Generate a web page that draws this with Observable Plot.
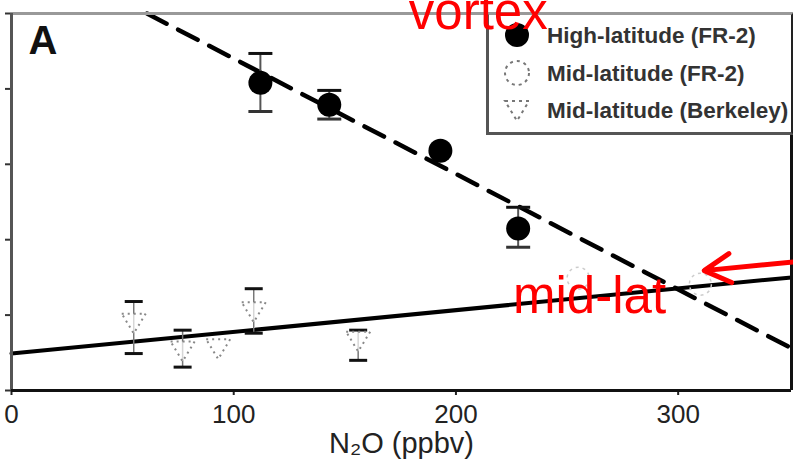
<!DOCTYPE html>
<html>
<head>
<meta charset="utf-8">
<script src="https://cdn.jsdelivr.net/npm/d3@7"></script>
<script src="https://cdn.jsdelivr.net/npm/@observablehq/plot@0.6"></script>
<style>
  body { margin: 0; background: #fff; }
  #wrap { position: relative; width: 793px; height: 461px; overflow: hidden; background: #fff; }
  #legend {
    position: absolute; left: 486px; top: 12px; width: 302px; height: 117px;
    background: #fff; border: 3px solid #555; border-top-color: #999; border-right-color: #222;
  }
  #legend svg { display: block; }
</style>
</head>
<body>
<div id="wrap"></div>
<script>
// Axis extents and ticks
const xDomain = [0, 351];
const yDomain = [0, 5];
const xTicks = [0, 100, 200, 300];
const yTicks = [0, 1, 2, 3, 4, 5];

// High-latitude (FR-2)
const highN2O   = [112, 143, 193, 228];
const highValue = [4.08, 3.79, 3.18, 2.15];
const highLow   = [3.70, 3.60, null, 1.90];
const highHigh  = [4.47, 3.98, null, 2.43];

// Mid-latitude (FR-2)
const midFrN2O   = [255, 310];
const midFrValue = [1.49, 1.41];

// Mid-latitude (Berkeley)
const berkN2O   = [55, 77, 93, 109, 156];
const berkValue = [0.90, 0.53, 0.56, 1.05, 0.66];
const berkLow   = [0.49, 0.31, null, 0.76, 0.40];
const berkHigh  = [1.18, 0.80, null, 1.35, 0.80];

// Fitted trend lines (end points)
const vortexFitN2O   = [61, 351];
const vortexFitValue = [5.0, 0.56];
const midFitN2O      = [0, 351];
const midFitValue    = [0.49, 1.50];

// Legend entries
const legendLabels = ["High-latitude (FR-2)", "Mid-latitude (FR-2)", "Mid-latitude (Berkeley)"];

// Annotations
const noteLabels = ["vortex", "mid-lat"];
const noteN2O    = [178.8, 225.7];
const noteValue  = [4.80, 1.03];
const arrowFrom  = [353.5, 1.71];
const arrowTo    = [311.7, 1.59];

const high = highN2O.map((x, i) => ({x, y: highValue[i], lo: highLow[i], hi: highHigh[i]}));
const midFr = midFrN2O.map((x, i) => ({x, y: midFrValue[i]}));
const berk = berkN2O.map((x, i) => ({x, y: berkValue[i], lo: berkLow[i], hi: berkHigh[i]}));
const vortexFit = vortexFitN2O.map((x, i) => ({x, y: vortexFitValue[i]}));
const midFit = midFitN2O.map((x, i) => ({x, y: midFitValue[i]}));
const notes = noteLabels.map((t, i) => ({t, x: noteN2O[i], y: noteValue[i]}));
const arrows = [{x1: arrowFrom[0], y1: arrowFrom[1], x2: arrowTo[0], y2: arrowTo[1]}];

// Down-pointing open triangle and horizontal error-bar cap
const triDown = {
  draw(ctx, size) {
    const r = Math.sqrt(size / Math.PI);
    ctx.moveTo(-r, -r * 0.75);
    ctx.lineTo(r, -r * 0.75);
    ctx.lineTo(0, r * 0.9);
    ctx.closePath();
  }
};
const capSym = {
  draw(ctx, size) {
    const r = Math.sqrt(size / Math.PI);
    ctx.moveTo(-r, 0);
    ctx.lineTo(r, 0);
  }
};

const withBars = (d) => d.lo != null && d.hi != null;

const chart = Plot.plot({
  width: 793,
  height: 461,
  marginLeft: 11,
  marginRight: 2,
  marginTop: 13,
  marginBottom: 71,
  x: {domain: xDomain},
  y: {domain: yDomain},
  style: {fontFamily: "'Liberation Sans', Arial, sans-serif", background: "#fff", color: "#222", overflow: "visible"},
  marks: [
    // axes
    Plot.axisX({ticks: xTicks, tickSize: 5, tickPadding: 9, fontSize: 26, label: null, stroke: "#222", strokeWidth: 2}),
    Plot.axisY({ticks: yTicks, tickSize: 6, tickFormat: () => "", label: null, stroke: "#333", strokeWidth: 2}),
    Plot.text(["N\u2082O (ppbv)"], {frameAnchor: "bottom", dy: 53, lineAnchor: "middle", fontSize: 29, fill: "#222"}),

    // trend lines
    Plot.line(midFit, {x: "x", y: "y", stroke: "#000", strokeWidth: 4}),
    Plot.line(vortexFit, {x: "x", y: "y", stroke: "#000", strokeWidth: 4.5, strokeDasharray: "22,13"}),

    // mid-latitude (FR-2) open circles, faint
    Plot.dot(midFr, {x: "x", y: "y", r: 11, fill: "none", stroke: "#ccc", strokeWidth: 1.5, strokeDasharray: "3,4"}),

    // Berkeley error bars and triangles
    Plot.ruleX(berk.filter(withBars), {x: "x", y1: "lo", y2: "hi", stroke: "#777", strokeWidth: 1.5}),
    Plot.dot(berk.filter(withBars), {x: "x", y: "hi", symbol: capSym, r: 9, fill: "none", stroke: "#111", strokeWidth: 3}),
    Plot.dot(berk.filter(withBars), {x: "x", y: "lo", symbol: capSym, r: 9, fill: "none", stroke: "#111", strokeWidth: 3}),
    Plot.dot(berk, {x: "x", y: "y", symbol: triDown, r: 12, fill: "#fff", fillOpacity: 0.7, stroke: "#888", strokeWidth: 2, strokeDasharray: "2,4"}),

    // high-latitude error bars and filled circles
    Plot.ruleX(high.filter(withBars), {x: "x", y1: "lo", y2: "hi", stroke: "#555", strokeWidth: 2}),
    Plot.dot(high.filter(withBars), {x: "x", y: "hi", symbol: capSym, r: 12, fill: "none", stroke: "#111", strokeWidth: 3}),
    Plot.dot(high.filter(withBars), {x: "x", y: "lo", symbol: capSym, r: 12, fill: "none", stroke: "#333", strokeWidth: 3}),
    Plot.dot(high, {x: "x", y: "y", r: 12, fill: "#000", stroke: "none"}),

    // frame
    Plot.ruleY([yDomain[1]], {stroke: "#999", strokeWidth: 3}),
    Plot.ruleX([xDomain[0]], {stroke: "#555", strokeWidth: 3}),
    Plot.ruleX([xDomain[1]], {stroke: "#111", strokeWidth: 3}),
    Plot.ruleY([yDomain[0]], {stroke: "#111", strokeWidth: 3}),

    // panel letter
    Plot.text(["A"], {frameAnchor: "top-left", textAnchor: "start", lineAnchor: "top", dx: 17, dy: 12, fontSize: 40, fontWeight: "bold", fill: "#111"}),

    // annotations
    Plot.text(notes, {x: "x", y: "y", text: "t", textAnchor: "start", lineAnchor: "bottom", fontSize: 51, fill: "#ff0000"}),
    Plot.arrow(arrows, {x1: "x1", y1: "y1", x2: "x2", y2: "y2", stroke: "#ff0000", strokeWidth: 5, headLength: 9, headAngle: 58})
  ]
});

const wrap = document.getElementById("wrap");
wrap.appendChild(chart);

// Legend box in the upper right corner of the panel
const legend = document.createElement("div");
legend.id = "legend";
wrap.appendChild(legend);

const lsvg = d3.select(legend).append("svg").attr("width", 302).attr("height", 117);
const rowY = [20, 58, 95];
const symFor = [d3.symbolCircle, d3.symbolCircle, triDown];
const symSize = [12, 12, 12];
legendLabels.forEach((label, i) => {
  const g = lsvg.append("g").attr("transform", `translate(28,${rowY[i]})`);
  const path = g.append("path").attr("d", d3.symbol(symFor[i], Math.PI * symSize[i] ** 2)());
  if (i === 0) path.attr("fill", "#000");
  else path.attr("fill", "none").attr("stroke", "#777").attr("stroke-width", 2).attr("stroke-dasharray", "3,4");
  lsvg.append("text")
    .attr("x", 58).attr("y", rowY[i]).attr("dy", "0.35em")
    .attr("font-family", "'Liberation Sans', Arial, sans-serif")
    .attr("font-size", 22.5).attr("font-weight", "bold").attr("fill", "#333")
    .text(label);
});

// keep the red annotations above the legend box
const overlay = d3.select(wrap).append("svg")
  .attr("width", 793).attr("height", 461)
  .style("position", "absolute").style("left", 0).style("top", 0).style("pointer-events", "none")
  .style("overflow", "visible")
  .style("font-family", "'Liberation Sans', Arial, sans-serif");
chart.querySelectorAll("g[aria-label='text'], g[aria-label='arrow']").forEach((g) => {
  if (g.getAttribute("fill") === "#ff0000" || g.getAttribute("stroke") === "#ff0000") {
    overlay.node().appendChild(g);
  }
});
</script>
</body>
</html>
